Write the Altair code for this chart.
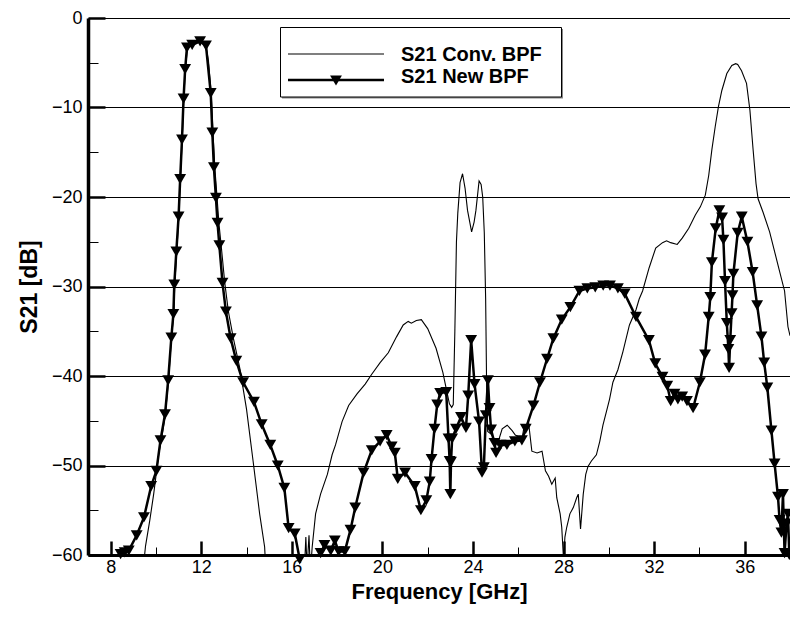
import altair as alt
import pandas as pd

# ---------------- data ----------------
conv_f = [9.45, 9.50, 9.54, 9.73, 9.90, 10.12, 10.25, 10.42, 10.56, 10.69, 10.79, 10.83, 10.92,
          11.01, 11.08, 11.16, 11.23, 11.30, 11.40, 11.70, 11.95, 12.20, 12.32, 12.44, 12.52,
          12.60, 12.70, 12.78, 12.88, 13.04, 13.20, 13.42, 13.70, 14.00, 14.29, 14.58, 14.80,
          14.86, 16.55, 16.62, 16.68, 16.72, 16.76, 16.82, 16.90, 17.05, 17.27, 17.57, 17.78,
          17.93, 18.22, 18.51, 18.88, 19.24, 19.53, 19.90, 20.26, 20.63, 20.92, 21.14, 21.28,
          21.50, 21.72, 22.00, 22.37, 22.67, 22.81, 22.96, 23.06, 23.13, 23.20, 23.27, 23.33,
          23.43, 23.54, 23.65, 23.76, 23.94, 24.05, 24.13, 24.27, 24.36, 24.43, 24.50, 24.56,
          24.60, 24.65, 24.80, 24.93, 25.07, 25.29, 25.51, 25.73, 25.87, 26.17, 26.24, 26.46,
          26.60, 26.83, 27.05, 27.20, 27.34, 27.48, 27.63, 27.70, 27.85, 27.92, 28.00, 28.06,
          28.14, 28.28, 28.43, 28.58, 28.65, 28.75, 28.87, 28.98, 29.08, 29.23, 29.45, 29.60,
          29.74, 29.89, 30.03, 30.18, 30.40, 30.62, 30.91, 31.20, 31.34, 31.49, 31.78, 32.07,
          32.37, 32.55, 32.73, 33.02, 33.24, 33.53, 33.82, 34.04, 34.26, 34.41, 34.55, 34.70,
          34.84, 34.99, 35.21, 35.43, 35.60, 35.69, 35.86, 36.08, 36.23, 36.37, 36.50, 36.59,
          36.81, 37.10, 37.32, 37.54, 37.76, 37.91, 38.00]
conv_db = [-62.0, -60.0, -59.0, -56.1, -53.2, -48.8, -47.0, -44.2, -40.4, -35.6, -33.0, -29.8, -26.1,
           -22.2, -18.0, -13.6, -9.0, -5.7, -3.2, -2.8, -2.5, -3.0, -4.8, -8.4, -12.8,
           -16.7, -20.1, -22.9, -25.4, -29.6, -32.8, -35.8, -39.1, -43.7, -49.5, -55.4, -59.1,
           -62.0, -62.0, -58.0, -62.0, -59.5, -57.8, -62.0, -59.1, -55.4, -53.2, -51.0, -48.8,
           -47.7, -45.1, -43.3, -42.0, -40.9, -39.8, -38.5, -37.4, -35.6, -34.3, -33.9, -34.1,
           -33.8, -33.7, -34.7, -36.9, -39.6, -41.3, -43.1, -43.5, -43.2, -35.0, -25.0, -21.8,
           -18.4, -17.4, -19.0, -21.5, -23.9, -22.8, -21.5, -18.2, -18.6, -20.0, -24.0, -31.4,
           -40.5, -46.2, -46.5, -47.0, -47.7, -45.9, -45.5, -46.1, -46.6, -47.0, -45.9, -45.3,
           -48.4, -48.6, -48.4, -50.6, -51.2, -52.1, -51.4, -53.6, -55.4, -56.9, -60.5, -58.0,
           -56.9, -55.4, -54.7, -53.6, -53.2, -57.1, -53.2, -51.0, -50.1, -49.5, -48.8, -47.3,
           -45.5, -44.0, -42.6, -40.7, -39.3, -37.3, -34.3, -32.6, -31.4, -30.5, -27.9, -25.7,
           -25.1, -24.9, -25.1, -25.3, -24.6, -23.5, -22.0, -21.1, -19.8, -17.6, -14.7, -12.1,
           -9.9, -8.1, -6.2, -5.3, -5.1, -5.2, -5.9, -7.3, -10.3, -14.7, -18.5, -20.2,
           -21.7, -23.9, -26.1, -28.3, -30.5, -34.5, -35.5]

new_f = [8.44, 8.62, 8.80, 9.15, 9.47, 9.79, 10.02, 10.20, 10.40, 10.54, 10.68, 10.77, 10.81,
         10.90, 11.00, 11.07, 11.15, 11.22, 11.29, 11.37, 11.60, 11.95, 12.21, 12.42, 12.49,
         12.56, 12.65, 12.72, 12.80, 12.94, 13.09, 13.30, 13.55, 13.85, 14.33, 14.67, 15.05,
         15.38, 15.67, 15.86, 16.13, 16.35, 16.55, 17.10, 17.27, 17.44, 17.72, 17.90, 18.07,
         18.34, 18.59, 18.80, 19.17, 19.53, 19.90, 20.19, 20.41, 20.55, 20.68, 21.00, 21.43,
         21.70, 21.94, 22.09, 22.17, 22.30, 22.42, 22.55, 22.82, 22.92, 22.97, 23.00, 23.03,
         23.08, 23.25, 23.47, 23.69, 23.79, 23.92, 24.07, 24.27, 24.40, 24.48, 24.57, 24.66,
         24.73, 24.80, 24.95, 25.02, 25.22, 25.50, 25.85, 26.16, 26.33, 26.67, 26.96, 27.27,
         27.55, 27.92, 28.30, 28.70, 29.05, 29.40, 29.75, 30.05, 30.40, 30.70, 31.20, 31.77,
         32.05, 32.37, 32.58, 32.73, 32.90, 33.05, 33.24, 33.45, 33.72, 34.02, 34.25, 34.41,
         34.48, 34.55, 34.72, 34.88, 35.00, 35.06, 35.13, 35.21, 35.28, 35.31, 35.36, 35.42,
         35.46, 35.50, 35.69, 35.87, 36.12, 36.35, 36.55, 36.74, 36.86, 37.00, 37.18, 37.32,
         37.47, 37.54, 37.62, 37.69, 37.76, 37.85, 37.91, 37.97]
new_db = [-59.9, -59.7, -59.5, -57.8, -55.8, -52.3, -50.6, -47.2, -44.3, -40.5, -35.7, -33.1, -29.8,
          -26.1, -22.2, -18.0, -13.6, -9.0, -5.7, -3.3, -3.0, -2.6, -3.1, -8.4, -12.8,
          -16.7, -20.1, -22.9, -25.4, -29.6, -32.8, -35.8, -38.3, -40.7, -42.9, -45.4, -47.7,
          -50.0, -52.5, -57.0, -57.6, -60.5, -66.0, -66.0, -59.8, -58.9, -59.5, -58.4, -59.6,
          -59.6, -57.2, -54.7, -50.8, -48.3, -47.3, -46.6, -47.9, -48.6, -51.5, -50.8, -52.3,
          -55.0, -53.9, -51.8, -49.3, -45.9, -43.2, -41.9, -41.8, -47.0, -49.5, -53.2, -49.6,
          -47.0, -45.9, -44.6, -45.8, -42.2, -36.0, -40.9, -45.1, -50.8, -50.2, -44.4, -40.5,
          -43.6, -46.0, -47.5, -48.6, -47.7, -47.7, -47.3, -47.2, -45.9, -43.3, -40.7, -38.1,
          -35.8, -33.7, -32.3, -30.5, -30.2, -30.1, -29.9, -29.9, -30.2, -30.8, -33.4, -36.0,
          -38.6, -40.1, -41.1, -42.8, -42.0, -42.6, -42.3, -42.8, -43.6, -40.7, -37.6, -33.4,
          -31.2, -27.3, -23.5, -21.5, -22.3, -24.8, -29.4, -34.1, -37.0, -39.1, -36.0, -33.0,
          -31.0, -28.6, -24.0, -22.2, -25.0, -28.4, -32.1, -35.6, -38.5, -41.3, -46.1, -49.8,
          -53.5, -56.1, -57.5, -53.2, -59.8, -56.5, -55.4, -60.0]

x_major = [8, 12, 16, 20, 24, 28, 32, 36]
x_minor = [10, 14, 18, 22, 26, 30, 34, 38]
y_major = [0, -10, -20, -30, -40, -50, -60]
y_minor = [-5, -15, -25, -35, -45, -55]
legend_labels = ["S21 Conv. BPF", "S21 New BPF"]
x_title = "Frequency [GHz]"
y_title = "S21 [dB]"

conv = pd.DataFrame({"f": conv_f, "db": conv_db, "i": list(range(len(conv_f)))})
new = pd.DataFrame({"f": new_f, "db": new_db, "i": list(range(len(new_f)))})
one = pd.DataFrame({"k": [0]})

W, H = 702, 537
FONT = "Liberation Sans"

xs = alt.Scale(domain=[7, 38], nice=False, zero=False)
ys = alt.Scale(domain=[-60, 0], nice=False, zero=False)

ax_x_main = alt.Axis(orient="bottom", values=x_major, title=x_title, tickSize=0, labelPadding=3,
                     labelFontSize=18, labelFont=FONT, labelColor="black", labelFlush=False,
                     titleFontSize=22, titleFont=FONT, titleFontWeight="bold", titleColor="black",
                     titleY=43, titleBaseline="alphabetic",
                     domainColor="black", domainWidth=3, grid=False)
ax_y_main = alt.Axis(orient="left", values=y_major, title=y_title, tickSize=0, labelPadding=6,
                     labelFontSize=18, labelFont=FONT, labelColor="black", labelFlush=False,
                     titleFontSize=23, titleFont=FONT, titleFontWeight="bold", titleColor="black",
                     titleX=-52, titleY=H / 2, titleAngle=270, titleBaseline="alphabetic",
                     titleAlign="center",
                     domainColor="black", domainWidth=3.5,
                     grid=True, gridColor="black", gridWidth=1, gridOpacity=1)
ax_x_major = alt.Axis(orient="top", offset=-H, values=x_major, labels=False, tickSize=14,
                      tickWidth=2.5, tickColor="black", domain=False, grid=False, title=None)
ax_x_minor = alt.Axis(orient="top", offset=-H, values=x_minor, labels=False, tickSize=8,
                      tickWidth=1, tickColor="black", domain=False, grid=False, title=None)
ax_y_major = alt.Axis(orient="right", offset=-W, values=y_major, labels=False, tickSize=17,
                      tickWidth=2.5, tickColor="black", domain=False, grid=False, title=None)
ax_y_minor = alt.Axis(orient="right", offset=-W, values=y_minor, labels=False, tickSize=10,
                      tickWidth=1, tickColor="black", domain=False, grid=False, title=None)

conv_line = alt.Chart(conv).mark_line(color="black", strokeWidth=1.1, clip=True).encode(
    x=alt.X("f:Q", scale=xs, axis=ax_x_main),
    y=alt.Y("db:Q", scale=ys, axis=ax_y_main),
    order="i:Q",
)
new_line = alt.Chart(new).mark_line(color="black", strokeWidth=2.5, clip=True).encode(
    x=alt.X("f:Q", scale=xs, axis=ax_x_major),
    y=alt.Y("db:Q", scale=ys, axis=ax_y_major),
    order="i:Q",
)
new_pts = alt.Chart(new).transform_filter("datum.db >= -60.5").mark_point(
    shape="triangle-down", filled=True, color="black", size=140, opacity=1
).encode(
    x=alt.X("f:Q", scale=xs, axis=ax_x_minor),
    y=alt.Y("db:Q", scale=ys, axis=ax_y_minor),
)

# ---------------- legend ----------------
shadow = alt.Chart(one).mark_rect(fill="#888888").encode(
    x=alt.value(194), x2=alt.value(475), y=alt.value(11), y2=alt.value(80.5))
box = alt.Chart(one).mark_rect(fill="white", stroke="black", strokeWidth=1).encode(
    x=alt.value(192.5), x2=alt.value(473.5), y=alt.value(9.5), y2=alt.value(79))
leg_conv = alt.Chart(one).mark_rule(color="black", strokeWidth=1.1).encode(
    x=alt.value(200), x2=alt.value(296), y=alt.value(36))
leg_new = alt.Chart(one).mark_rule(color="black", strokeWidth=2.5).encode(
    x=alt.value(200), x2=alt.value(296), y=alt.value(62))
leg_tri = alt.Chart(one).mark_point(shape="triangle-down", filled=True, color="black",
                                    size=140, opacity=1).encode(
    x=alt.value(248), y=alt.value(62.5))
txt_style = dict(align="left", baseline="middle", font=FONT, fontSize=20,
                 fontWeight="bold", color="black")
leg_t1 = alt.Chart(one).mark_text(**txt_style).encode(
    x=alt.value(313), y=alt.value(36.5), text=alt.value(legend_labels[0]))
leg_t2 = alt.Chart(one).mark_text(**txt_style).encode(
    x=alt.value(313), y=alt.value(59), text=alt.value(legend_labels[1]))

chart = alt.layer(
    conv_line, new_line, new_pts, shadow, box, leg_conv, leg_new, leg_tri, leg_t1, leg_t2
).resolve_scale(x="shared", y="shared").resolve_axis(
    x="independent", y="independent"
).properties(
    width=W, height=H,
    autosize=alt.AutoSizeParams(type="none"),
    padding={"left": 80, "top": 10, "right": 0, "bottom": 49},
    background="white",
).configure_view(stroke=None)

chart.save("out.html", embed_options={"renderer": "svg", "actions": False})
